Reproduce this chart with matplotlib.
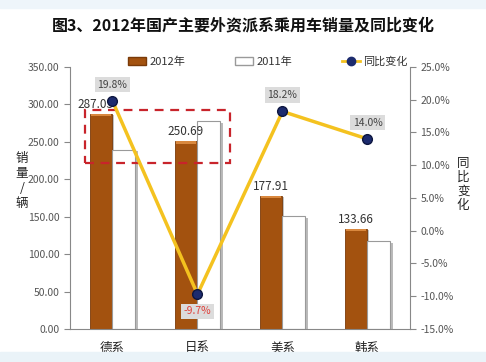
import matplotlib
matplotlib.use("Agg")
import matplotlib.pyplot as plt
import matplotlib.patheffects as pe
from matplotlib.patches import Rectangle
from matplotlib.lines import Line2D
import numpy as np

plt.rcParams['font.family'] = ['Noto Sans CJK SC', 'DejaVu Sans']

# datos
categorias = ['德系', '日系', '美系', '韩系']
ventas_2012 = [287.03, 250.69, 177.91, 133.66]
ventas_2011 = [239.6, 277.6, 150.5, 117.2]
variacion = [19.8, -9.7, 18.2, 14.0]

marron = '#A3520F'
amarillo = '#F4C21F'
azul = '#1C2B6E'
gris = '#555555'

fig = plt.figure(figsize=(4.86, 3.62), dpi=100)
fig.patch.set_facecolor('white')
# franjas azul claro arriba y abajo
fig.patches.append(Rectangle((0, 0), 1, 0.028, transform=fig.transFigure, color='#EAF3F8', zorder=0))
fig.patches.append(Rectangle((0, 0.978), 1, 0.022, transform=fig.transFigure, color='#EEF5FA', zorder=0))

ax = fig.add_axes([0.144, 0.0912, 0.6996, 0.724])
x = np.arange(len(categorias))
w = 0.27

b1 = ax.bar(x - w / 2, ventas_2012, w, color=marron, edgecolor='#7A3A08', linewidth=0.6, zorder=2)
b2 = ax.bar(x + w / 2, ventas_2011, w, color='white', edgecolor='#9A9A9A', linewidth=0.8, zorder=2)
for r in b2:
    r.set_path_effects([pe.SimplePatchShadow(offset=(1.5, -1), shadow_rgbFace='#777777', alpha=0.5), pe.Normal()])
for r in b1:
    r.set_path_effects([pe.SimplePatchShadow(offset=(1.2, -0.8), shadow_rgbFace='#666666', alpha=0.4), pe.Normal()])
    # brillo en la parte superior
    ax.bar(r.get_x() + r.get_width() / 2, 3, r.get_width() * 0.9, bottom=r.get_height() - 3,
           color='#D9883E', linewidth=0, zorder=3)

ax.set_xlim(-0.5, 3.5)
ax.set_ylim(0, 350)
ax.set_yticks(np.arange(0, 351, 50))
ax.set_yticklabels([f'{v:.2f}' for v in np.arange(0, 351, 50)])
ax.set_xticks(x)
ax.set_xticklabels(categorias, fontsize=9, color='#222222')
ax.tick_params(axis='x', length=0, pad=9)
ax.tick_params(axis='y', labelsize=7.5, labelcolor=gris, color='#888888', length=4, direction='out')
for s in ['top', 'right']:
    ax.spines[s].set_visible(False)
ax.spines['left'].set_color('#888888')
ax.spines['bottom'].set_color('#888888')

# etiquetas de valores
desp = [-0.2, -0.14, -0.135, -0.135]
for i, v in enumerate(ventas_2012):
    ax.text(x[i] + desp[i], v + 4, f'{v:.2f}', ha='center', va='bottom', fontsize=8.5, color='#333333', zorder=6)

# rectangulo rojo punteado
ax.add_patch(Rectangle((-0.32, 221.7), 1.70, 70.8, fill=False, edgecolor='#C8242B',
                       linewidth=1.6, linestyle=(0, (4, 3)), zorder=5))

ax2 = ax.twinx()
ax2.set_ylim(-15, 25)
ax2.set_yticks(np.arange(-15, 26, 5))
ax2.set_yticklabels([f'{v:.1f}%' for v in np.arange(-15, 26, 5)])
ax2.tick_params(axis='y', labelsize=7.5, labelcolor=gris, color='#888888', length=4, direction='out')
for s in ['top', 'left', 'bottom']:
    ax2.spines[s].set_visible(False)
ax2.spines['right'].set_color('#888888')
ax2.plot(x, variacion, color=amarillo, linewidth=2.5, marker='o', markersize=7,
         markerfacecolor=azul, markeredgecolor='#0D1640', zorder=4)

offs = [2.5, -2.6, 2.5, 2.5]
for i, v in enumerate(variacion):
    col = '#E0403A' if v < 0 else '#444444'
    ax2.text(x[i], v + offs[i], f'{v:.1f}%', ha='center', va='center', fontsize=7.5, color=col,
             bbox=dict(boxstyle='square,pad=0.25', facecolor='#DCDCDC', edgecolor='none'), zorder=6)

# leyenda
handles = [Rectangle((0, 0), 1, 1, facecolor=marron, edgecolor='#7A3A08'),
           Rectangle((0, 0), 1, 1, facecolor='white', edgecolor='#9A9A9A'),
           Line2D([0], [0], color=amarillo, linewidth=2, marker='o', markersize=6,
                  markerfacecolor=azul, markeredgecolor=azul)]
ax2.legend(handles, ['2012年', '2011年', '同比变化'], ncol=3, loc='center',
           bbox_to_anchor=(0.582, 1.019), frameon=False, fontsize=8,
           columnspacing=4.5, handlelength=1.6, handleheight=0.7, handletextpad=0.3,
           labelcolor='#333333')

fig.text(0.5, 0.931, '图3、2012年国产主要外资派系乘用车销量及同比变化', ha='center', va='center',
         fontsize=11.5, fontweight='bold', color='#111111')
fig.text(0.045, 0.50, '\n'.join('销量/辆'), ha='center', va='center', fontsize=9, color='#222222', linespacing=1.2)
fig.text(0.953, 0.49, '\n'.join('同比变化'), ha='center', va='center', fontsize=9, color='#222222', linespacing=1.1)

plt.savefig('out.png', dpi=100)
